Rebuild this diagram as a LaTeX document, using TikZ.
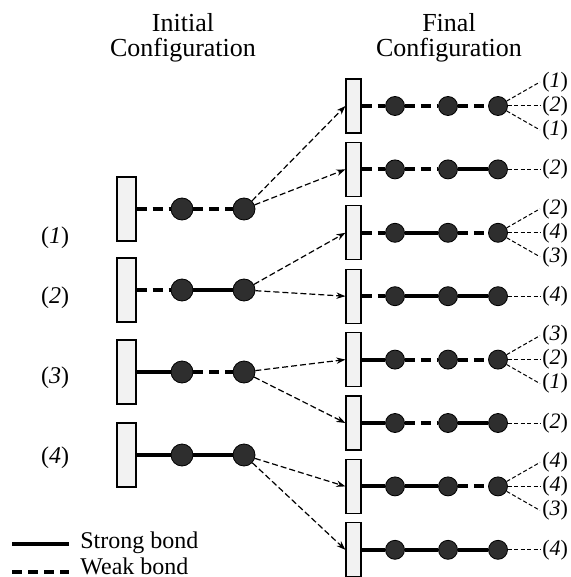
\documentclass[tikz,border=0pt]{standalone}
\usepackage{fontspec}
\setmainfont{Liberation Serif}
\usetikzlibrary{arrows.meta}

\begin{document}
\begin{tikzpicture}[x=0.5pt,y=-0.5pt,>={Stealth[length=4.5pt,width=3.2pt]},
  wall/.style={draw,line width=0.6pt,fill=black!5,minimum width=9.5pt,minimum height=32pt,inner sep=0pt},
  wallsm/.style={wall,minimum width=7.5pt,minimum height=27pt},
  atom/.style={circle,fill=black!82,draw=black,line width=0.4pt,minimum size=11pt,inner sep=0pt},
  atomsm/.style={atom,minimum size=9.5pt},
  strong/.style={line width=2.4pt},
  weak/.style={line width=2.4pt,dash pattern=on 5pt off 3pt},
  trans/.style={->,line width=0.6pt,dash pattern=on 3pt off 1.5pt},
  lead/.style={line width=0.5pt,dash pattern=on 2pt off 1.2pt},
  lbl/.style={font=\fontsize{12}{14}\selectfont},
  lblsm/.style={font=\fontsize{11}{13}\selectfont,anchor=west,inner sep=1pt},
  head/.style={align=center,anchor=north,inner sep=0pt,font=\fontsize{13}{12.5}\selectfont}]
  \useasboundingbox (0,0) rectangle (571,577);
  % headings
  \node[head] (tinit) at (183,13) {Initial\\Configuration};
  \node[head] (tfin) at (449,13) {Final\\Configuration};
  % initial chains
  \foreach \i/\y/\ba/\bb in {1/209/weak/weak,2/290/weak/strong,3/372/strong/weak,4/455/strong/strong}{
    \node[wall] (w\i) at (126.5,\y) {};
    \node[atom] (a\i1) at (182,\y) {};
    \node[atom] (a\i2) at (244,\y) {};
    \draw[\ba] (w\i.east) -- (a\i1);
    \draw[\bb] (a\i1) -- (a\i2);
  }
  \foreach \i/\y in {1/238,2/298,3/378,4/458}
    \node[lbl] (n\i) at (55,\y) {(\textit{\i})};
  % final chains
  \foreach \k/\ba/\bb/\bc in {1/weak/weak/weak,2/weak/weak/strong,3/weak/strong/weak,4/weak/strong/strong,
      5/strong/weak/weak,6/strong/weak/strong,7/strong/strong/weak,8/strong/strong/strong}{
    \pgfmathsetmacro\ry{106+63.4*(\k-1)}
    \node[wallsm] (rw\k) at (353.5,\ry) {};
    \node[atomsm] (r\k1) at (395,\ry) {};
    \node[atomsm] (r\k2) at (448,\ry) {};
    \node[atomsm] (r\k3) at (498,\ry) {};
    \draw[\ba,line width=2pt] (rw\k.east) -- (r\k1);
    \draw[\bb,line width=2pt] (r\k1) -- (r\k2);
    \draw[\bc,line width=2pt] (r\k2) -- (r\k3);
  }
  % outcomes
  \foreach \k/\p/\q/\s in {1/1/2/1,3/2/4/3,5/3/2/1,7/4/4/3}{
    \node[lblsm] (u\k) at ([shift={(42,-24)}]r\k3) {(\textit{\p})};
    \node[lblsm] (v\k) at ([shift={(42,0)}]r\k3) {(\textit{\q})};
    \node[lblsm] (s\k) at ([shift={(42,24)}]r\k3) {(\textit{\s})};
    \draw[lead] (r\k3) -- (u\k.west);
    \draw[lead] (r\k3) -- (v\k.west);
    \draw[lead] (r\k3) -- (s\k.west);
  }
  \foreach \k/\p in {2/2,4/4,6/2,8/4}{
    \node[lblsm] (v\k) at ([shift={(42,0)}]r\k3) {(\textit{\p})};
    \draw[lead] (r\k3) -- (v\k.west);
  }
  % transitions
  \foreach \i in {1,...,4}{
    \pgfmathtruncatemacro\ka{2*\i-1}
    \pgfmathtruncatemacro\kb{2*\i}
    \draw[trans] (a\i2) -- (rw\ka.west);
    \draw[trans] (a\i2) -- (rw\kb.west);
  }
  % legend
  \coordinate (ls0) at (12,544);
  \coordinate (ls1) at (69,544);
  \coordinate (lw0) at (12,572);
  \coordinate (lw1) at (69,572);
  \draw[strong] (ls0) -- (ls1);
  \draw[weak] (lw0) -- (lw1);
  \node[lbl,anchor=base west,inner sep=0pt] (lstrong) at (80,548) {Strong bond};
  \node[lbl,anchor=base west,inner sep=0pt] (lweak) at (80,574) {Weak bond};
\end{tikzpicture}
\end{document}
